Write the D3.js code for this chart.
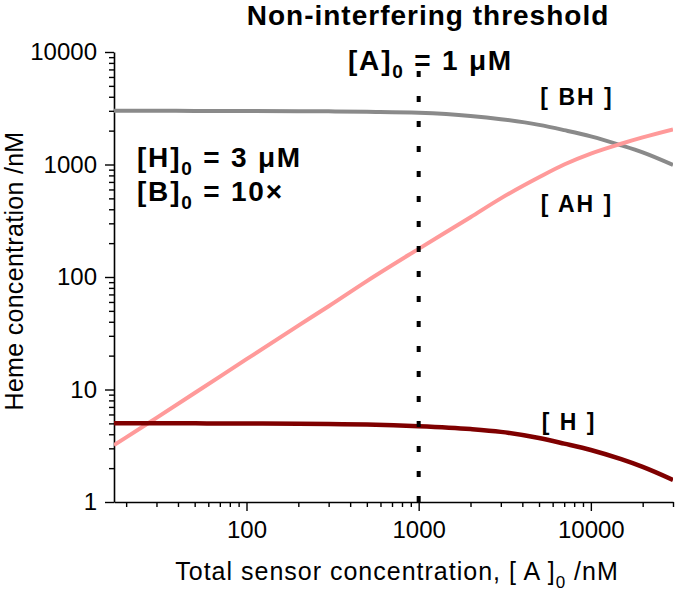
<!DOCTYPE html>
<html>
<head>
<meta charset="utf-8">
<script src="https://cdn.jsdelivr.net/npm/d3@7"></script>
<style>
  body { margin: 0; background: #fff; }
  text { font-family: "Liberation Sans", Arial, sans-serif; }
</style>
</head>
<body>
<div id="chart"></div>
<script>
// total sensor concentration [A]0 (nM)
const concA = [17, 20, 30, 50, 100, 200, 300, 500, 1000, 2000, 3000, 5000, 7000, 10000, 15000, 20000, 30000];
// heme species (nM)
const bhVals = [3000, 3000, 3000, 2995, 2990, 2980, 2970, 2940, 2880, 2700, 2530, 2250, 2020, 1780, 1480, 1280, 990];
const ahVals = [3.2, 3.75, 5.6, 9.3, 18.6, 37, 55, 92, 178, 340, 500, 770, 1000, 1250, 1530, 1740, 2050];
const hVals  = [5.0, 5.0, 5.0, 5.0, 4.98, 4.96, 4.93, 4.88, 4.72, 4.45, 4.2, 3.7, 3.3, 2.9, 2.4, 2.05, 1.57];

const series = [
  {name: "BH", values: bhVals, color: "#8a8a8a", width: 4},
  {name: "AH", values: ahVals, color: "#ff9a9a", width: 4},
  {name: "H",  values: hVals,  color: "#7f0000", width: 4.5}
];

const xMajor = [100, 1000, 10000];
const xMinor = [20, 30, 40, 50, 60, 70, 80, 90, 200, 300, 400, 500, 600, 700, 800, 900,
                2000, 3000, 4000, 5000, 6000, 7000, 8000, 9000, 20000, 30000];
const yMajor = [1, 10, 100, 1000, 10000];
const yMinor = [2, 3, 4, 5, 6, 7, 8, 9, 20, 30, 40, 50, 60, 70, 80, 90,
                200, 300, 400, 500, 600, 700, 800, 900, 2000, 3000, 4000, 5000, 6000, 7000, 8000, 9000];

const threshold = 1000;

const width = 677, height = 591;
const margin = {top: 52, right: 4, bottom: 89, left: 114};

const svg = d3.select("#chart").append("svg")
  .attr("width", width)
  .attr("height", height);

const x = d3.scaleLog()
  .domain([17, 30000])
  .range([margin.left, width - margin.right]);

const y = d3.scaleLog()
  .domain([1, 10000])
  .range([height - margin.bottom, margin.top]);

svg.append("defs").append("clipPath").attr("id", "plot")
  .append("rect")
  .attr("x", margin.left).attr("y", margin.top - 5)
  .attr("width", width - margin.right - margin.left)
  .attr("height", height - margin.bottom - margin.top + 5);

// axes: minor ticks first, then majors with labels
const axisX = svg.append("g").attr("transform", `translate(0,${height - margin.bottom})`);
axisX.call(d3.axisBottom(x).tickValues(xMinor).tickSize(5).tickSizeOuter(0).tickFormat(""));
axisX.append("g").call(d3.axisBottom(x).tickValues(xMajor).tickSize(9).tickSizeOuter(0)
    .tickPadding(10).tickFormat(d3.format("d")))
  .call(g => g.select(".domain").remove());

const axisY = svg.append("g").attr("transform", `translate(${margin.left},0)`);
axisY.call(d3.axisLeft(y).tickValues(yMinor).tickSize(5).tickSizeOuter(0).tickFormat(""));
axisY.append("g").call(d3.axisLeft(y).tickValues(yMajor).tickSize(9).tickSizeOuter(0)
    .tickPadding(8).tickFormat(d3.format("d")))
  .call(g => g.select(".domain").remove());

svg.selectAll(".domain").attr("stroke-width", 1.6);
svg.selectAll(".tick line").attr("stroke-width", 1.4);
svg.selectAll(".tick text")
  .attr("fill", "#000")
  .style("font-size", "24px");

// curves
const line = d3.line()
  .x(d => x(d[0]))
  .y(d => y(d[1]))
  .curve(d3.curveMonotoneX);

svg.append("g").attr("clip-path", "url(#plot)")
  .selectAll("path")
  .data(series)
  .enter().append("path")
    .attr("fill", "none")
    .attr("stroke", d => d.color)
    .attr("stroke-width", d => d.width)
    .attr("d", d => line(concA.map((a, i) => [a, d.values[i]])));

// threshold dotted line (drawn from the axis upward)
svg.append("line")
  .attr("x1", x(threshold)).attr("x2", x(threshold))
  .attr("y1", y(1)).attr("y2", y(9000))
  .attr("stroke", "#000")
  .attr("stroke-width", 4)
  .attr("stroke-dasharray", "6,19");

// annotations
function subText(sel, parts) {
  parts.forEach(p => {
    const t = sel.append("tspan").text(p.t);
    if (p.sub) t.attr("dy", 8).style("font-size", "0.68em");
    if (p.up) t.attr("dy", -8);
  });
}

svg.append("text")
  .attr("x", 428).attr("y", 25)
  .attr("text-anchor", "middle")
  .style("font-size", "28px").style("font-weight", "bold")
  .style("letter-spacing", "1px")
  .text("Non-interfering threshold");

const bigLabels = [
  {x: 348, y: 70,  parts: [{t: "[A]"}, {t: "0", sub: true}, {t: " = 1 μM", up: true}]},
  {x: 137, y: 167, parts: [{t: "[H]"}, {t: "0", sub: true}, {t: " = 3 μM", up: true}]},
  {x: 137, y: 201, parts: [{t: "[B]"}, {t: "0", sub: true}, {t: " = 10×", up: true}]}
];
bigLabels.forEach(l => {
  const t = svg.append("text").attr("x", l.x).attr("y", l.y)
    .style("font-size", "28px").style("font-weight", "bold")
    .style("letter-spacing", "1.8px");
  subText(t, l.parts);
});

const speciesLabels = [
  {t: "[ BH ]", x: 577, y: 105},
  {t: "[ AH ]", x: 577, y: 212},
  {t: "[ H ]",  x: 569, y: 430}
];
svg.selectAll(".species")
  .data(speciesLabels)
  .enter().append("text")
    .attr("class", "species")
    .attr("x", d => d.x).attr("y", d => d.y)
    .attr("text-anchor", "middle")
    .style("font-size", "23px").style("font-weight", "bold")
    .style("letter-spacing", "2px")
    .text(d => d.t);

// axis titles
svg.append("text")
  .attr("transform", "translate(23,271) rotate(-90)")
  .attr("text-anchor", "middle")
  .style("font-size", "25px")
  .style("letter-spacing", "0.3px")
  .text("Heme concentration /nM");

const xl = svg.append("text")
  .attr("x", 397).attr("y", 580)
  .attr("text-anchor", "middle")
  .style("font-size", "25px")
  .style("letter-spacing", "1px");
subText(xl, [{t: "Total sensor concentration, [ A ]"}, {t: "0", sub: true}, {t: " /nM", up: true}]);
</script>
</body>
</html>
